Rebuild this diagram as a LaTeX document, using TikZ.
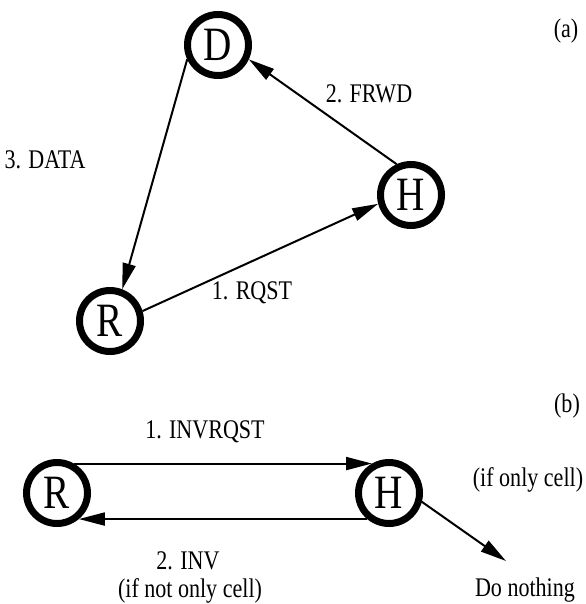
\documentclass[tikz,border=0pt]{standalone}
\usepackage{fontspec}
\setmainfont{Liberation Serif}[FakeStretch=0.82]
\usetikzlibrary{arrows.meta, positioning}

\begin{document}
\begin{tikzpicture}[
  x=1bp, y=-1bp,
  font=\fontsize{27}{30}\selectfont,
  cell/.style={circle, draw, line width=7bp, minimum size=61bp, inner sep=0pt, font=\fontsize{48}{48}\selectfont},
  lbl/.style={inner sep=0pt},
  arr/.style={-{Triangle[length=26bp, width=13bp]}, line width=2bp}
]
  \useasboundingbox (0,0) rectangle (586,604);

  % (a) request forwarded by the home
  \node[lbl] (tagA) at (566,31) {(a)};
  \node[cell] (D) at (218,45) {D};
  \node[cell] (H) at (411,195) {H};
  \node[cell] (R) at (110,321) {R};
  \node[lbl] (frwd) at (369,94) {2. FRWD};
  \node[lbl] (data) at (45,160) {3. DATA};
  \node[lbl] (rqst) at (252,293) {1. RQST};

  \draw[arr] (R.17) -- (H.195);
  \draw[arr] (H.115) -- (D.-25);
  \draw[arr] (D.205) -- (R.69);

  % (b) invalidation
  \node[lbl] (tagB) at (567,406) {(b)};
  \node[cell] (Rb) at (57,493) {R};
  \node[cell] (Hb) at (389,493) {H};
  \node[lbl] (invrqst) at (205,432) {1. INVRQST};
  \node[lbl] (inv) at (188,561) {2. INV};
  \node[lbl] (notonly) at (190,591) {(if not only cell)};
  \node[lbl] (only) at (528,480) {(if only cell)};
  \node[lbl] (nothing) at (525,590) {Do nothing};
  \coordinate (tipN) at (506,561);

  \draw[arr] (Rb.60) -- (Hb.120);
  \draw[arr] (Hb.-130) -- (Rb.-50);
  \draw[arr] (Hb.-15) -- (tipN);
\end{tikzpicture}
\end{document}
